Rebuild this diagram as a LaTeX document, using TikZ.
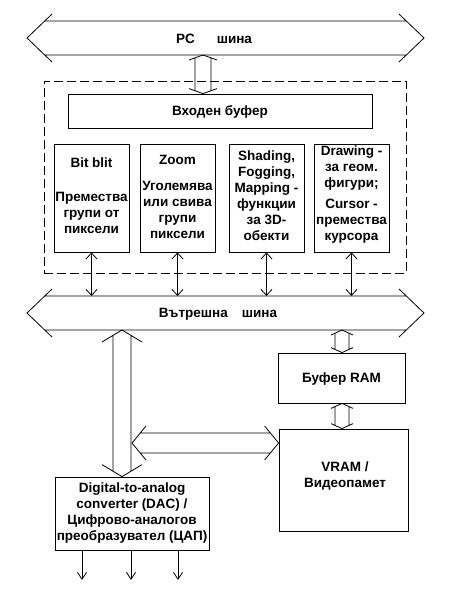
\documentclass[tikz,border=0pt]{standalone}
\usepackage{fontspec}
\setmainfont{Liberation Sans}
\usetikzlibrary{arrows.meta,calc}
% hollow vertical double arrow: #1 x, #2 top anchor, #3 bottom anchor, #4 half shaft, #5 half wing, #6 head length
\newcommand\hollowV[6]{%
  \draw let \p1=(#2), \p2=(#3) in
    (#1bp-#5bp,\y1-#6bp) -- (#1bp,\y1) -- (#1bp+#5bp,\y1-#6bp)
    (#1bp-#5bp,\y2+#6bp) -- (#1bp,\y2) -- (#1bp+#5bp,\y2+#6bp)
    (#1bp-#4bp,{\y1-#6bp*#4/#5}) -- (#1bp-#4bp,{\y2+#6bp*#4/#5})
    (#1bp+#4bp,{\y1-#6bp*#4/#5}) -- (#1bp+#4bp,{\y2+#6bp*#4/#5});}
% hollow horizontal double arrow: #1 left anchor, #2 right anchor, #3 y, #4 half shaft, #5 half wing, #6 head length
\newcommand\hollowH[6]{%
  \draw let \p1=(#1), \p2=(#2) in
    (\x1+#6bp,-#3bp+#5bp) -- (\x1,-#3bp) -- (\x1+#6bp,-#3bp-#5bp)
    (\x2-#6bp,-#3bp+#5bp) -- (\x2,-#3bp) -- (\x2-#6bp,-#3bp-#5bp)
    ({\x1+#6bp*#4/#5},-#3bp+#4bp) -- ({\x2-#6bp*#4/#5},-#3bp+#4bp)
    ({\x1+#6bp*#4/#5},-#3bp-#4bp) -- ({\x2-#6bp*#4/#5},-#3bp-#4bp);}
\begin{document}
\begin{tikzpicture}[x=1bp,y=-1bp,line width=0.8bp,
  box/.style={draw,inner sep=0},
  txt/.style={font=\bfseries\fontsize{13.5bp}{16bp}\selectfont,align=center,inner sep=0},
  barb/.style={{Straight Barb[length=6bp,width=11bp]}-{Straight Barb[length=6bp,width=11bp]}},
  outbarb/.style={-{Straight Barb[length=7bp,width=9bp]}}]
\useasboundingbox[fill=white] (0,0) rectangle (458,601);

% bus end points
\coordinate (pcL) at (27,38);
\coordinate (pcR) at (424,38);
\coordinate (pcbot) at (225,55);
\coordinate (ibL) at (27,313);
\coordinate (ibR) at (424,313);
\coordinate (ibtop) at (225,296);
\coordinate (ibbot) at (225,330);

% PC bus
\hollowH{pcL}{pcR}{38}{17}{24}{25}
\node[txt] (pctxt) at (214,39) {PC\hspace{22bp}шина};

% dashed group
\node[draw,dash pattern=on 9bp off 4bp,minimum width=362bp,minimum height=192bp,inner sep=0] (grp) at (225,177) {};

% input buffer
\node[box,minimum width=304bp,minimum height=34bp] (inb) at (220,111) {};
\node[txt] (inbt) at (220,112) {Входен буфер};

\hollowV{203}{pcbot}{inb.north}{8}{14}{5}

% four function boxes
\node[box,minimum width=75bp,minimum height=108bp] (b1) at (91.5,198) {};
\node[box,minimum width=75bp,minimum height=108bp] (b2) at (177.5,198) {};
\node[box,minimum width=75bp,minimum height=108bp] (b3) at (266.5,198) {};
\node[box,minimum width=75bp,minimum height=108bp] (b4) at (351.5,198) {};
\node[txt] (t1) at (91.5,196) {Bit blit\\[18bp]Премества\\групи от\\пиксели};
\node[txt] (t2) at (177.5,197) {Zoom\\[10bp]Уголемява\\или свива\\групи\\пиксели};
\node[txt] (t3) at (266.5,196) {Shading,\\Fogging,\\Mapping -\\функции\\за 3D-\\обекти};
\node[txt] (t4) at (351.5,195) {Drawing -\\за геом.\\фигури;\\[5bp]Cursor -\\премества\\курсора};

\draw[barb] (b1.south) -- (b1.south |- ibtop);
\draw[barb] (b2.south) -- (b2.south |- ibtop);
\draw[barb] (b3.south) -- (b3.south |- ibtop);
\draw[barb] (b4.south) -- (b4.south |- ibtop);

% internal bus
\hollowH{ibL}{ibR}{313}{17}{24}{25}
\node[txt] (ibt) at (218,314) {Вътрешна\hspace{14bp}шина};

% buffer RAM and VRAM
\node[box,minimum width=127bp,minimum height=50bp] (ram) at (341.5,378) {};
\node[txt] (ramt) at (341.5,379) {Буфер RAM};
\node[box,minimum width=129bp,minimum height=102bp] (vram) at (343.5,480) {};
\node[txt] (vramt) at (345,476) {VRAM /\\Видеопамет};

\hollowV{342}{ibbot}{ram.north}{7}{11}{5}
\hollowV{342}{ram.south}{vram.north}{7}{11}{5}

% DAC
\node[box,minimum width=154bp,minimum height=73bp] (dac) at (132,513.5) {};
\node[txt] (dact) at (132,513) {Digital-to-analog\\converter (DAC) /\\Цифрово-аналогов\\преобразувател (ЦАП)};

\hollowV{122}{ibbot}{dac.north}{9}{20}{12}

\coordinate (vsR) at (132,443);
\hollowH{vsR}{vram.west}{443}{10}{17}{14}

% DAC outputs
\coordinate (o1) at (82,580);
\coordinate (o2) at (131,580);
\coordinate (o3) at (178,580);
\draw[outbarb] (o1 |- dac.south) -- (o1);
\draw[outbarb] (o2 |- dac.south) -- (o2);
\draw[outbarb] (o3 |- dac.south) -- (o3);
\end{tikzpicture}
\end{document}
